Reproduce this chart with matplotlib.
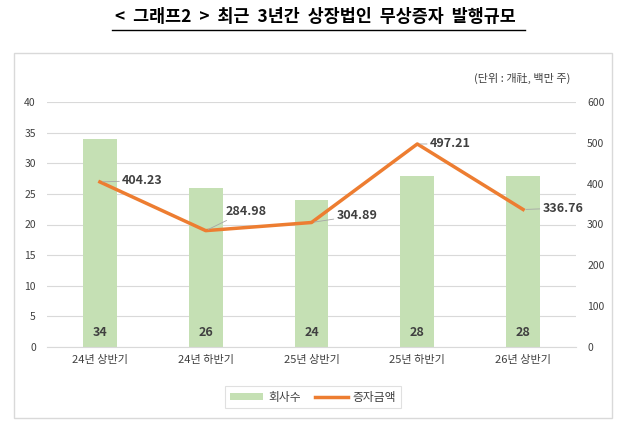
import matplotlib
matplotlib.use('Agg')
import matplotlib.pyplot as plt
from matplotlib.patches import Rectangle
import numpy as np

plt.rcParams['font.family'] = ['Noto Sans CJK KR', 'DejaVu Sans']

categories = ['24년 상반기', '24년 하반기', '25년 상반기', '25년 하반기', '26년 상반기']
companies = [34, 26, 24, 28, 28]
amounts = [404.23, 284.98, 304.89, 497.21, 336.76]
# label offsets (points) for the line labels
label_offsets = [(16, 1), (14, 14), (18, 5), (9, 0), (14, 1)]

BAR = '#C5E0B4'
LINE = '#ED7D31'
TXT = '#404040'
GRID = '#D9D9D9'

fig = plt.figure(figsize=(6.3, 4.33), dpi=100)
fig.patches.append(Rectangle((14 / 630, 1 - 418 / 433), 598 / 630, 365 / 433,
                             transform=fig.transFigure, fill=False,
                             edgecolor='#D9D9D9', linewidth=1))

fig.text(0.5, 1 - 17 / 433, '<  그래프2  >  최근  3년간  상장법인  무상증자  발행규모',
         ha='center', va='center', fontsize=12.5, fontweight='bold', color='black')
fig.add_artist(plt.Line2D([112 / 630, 525 / 630], [1 - 30 / 433, 1 - 30 / 433],
                          transform=fig.transFigure, color='black', linewidth=1))
fig.text(570 / 630, 1 - 78 / 433, '(단위 : 개社, 백만 주)', ha='right', va='center',
         fontsize=8, color=TXT)

ax = fig.add_axes([47 / 630, 1 - 347 / 433, 529 / 630, 245 / 433])
ax2 = ax.twinx()

x = np.arange(len(categories))
bars = ax.bar(x, companies, width=0.32, color=BAR, zorder=2, label='회사수')
for xi, v in zip(x, companies):
    ax.text(xi, 2.4, str(v), ha='center', va='center', fontsize=9,
            fontweight='bold', color=TXT)

ax.set_ylim(0, 40)
ax.set_yticks(range(0, 41, 5))
ax.set_xlim(-0.5, len(categories) - 0.5)
ax.set_xticks(x)
ax.set_xticklabels(categories, fontsize=8, color=TXT)
ax.grid(axis='y', color=GRID, linewidth=0.8, zorder=0)
ax.set_axisbelow(True)

ax2.set_ylim(0, 600)
ax2.set_yticks(range(0, 601, 100))
line, = ax2.plot(x, amounts, color=LINE, linewidth=2.5, zorder=3, label='증자금액')
for xi, v, off in zip(x, amounts, label_offsets):
    ax2.annotate(f'{v:.2f}', (xi, v), xytext=off, textcoords='offset points',
                 ha='left', va='center', fontsize=9, fontweight='bold', color=TXT,
                 arrowprops=dict(arrowstyle='-', color='#A6A6A6', lw=0.6,
                                 shrinkA=0, shrinkB=2))

for a in (ax, ax2):
    for s in a.spines.values():
        s.set_visible(False)
    a.tick_params(axis='both', length=0, labelsize=7.5, labelcolor=TXT, pad=8)
ax.spines['bottom'].set_visible(True)
ax.spines['bottom'].set_color(GRID)
ax.tick_params(axis='x', pad=6, labelsize=8)

ax.set_zorder(ax2.get_zorder() - 1)
ax.patch.set_visible(False)

leg = fig.legend([bars, line], ['회사수', '증자금액'], loc='center',
                 bbox_to_anchor=(313 / 630, 1 - 397 / 433), ncol=2, fontsize=8.5,
                 frameon=True, fancybox=False, edgecolor='#D9D9D9',
                 handlelength=2.8, handleheight=0.6, columnspacing=1.2,
                 handletextpad=0.4, borderpad=0.4, labelcolor=TXT)
leg.get_frame().set_linewidth(0.8)

fig.savefig('out.png', dpi=100)
